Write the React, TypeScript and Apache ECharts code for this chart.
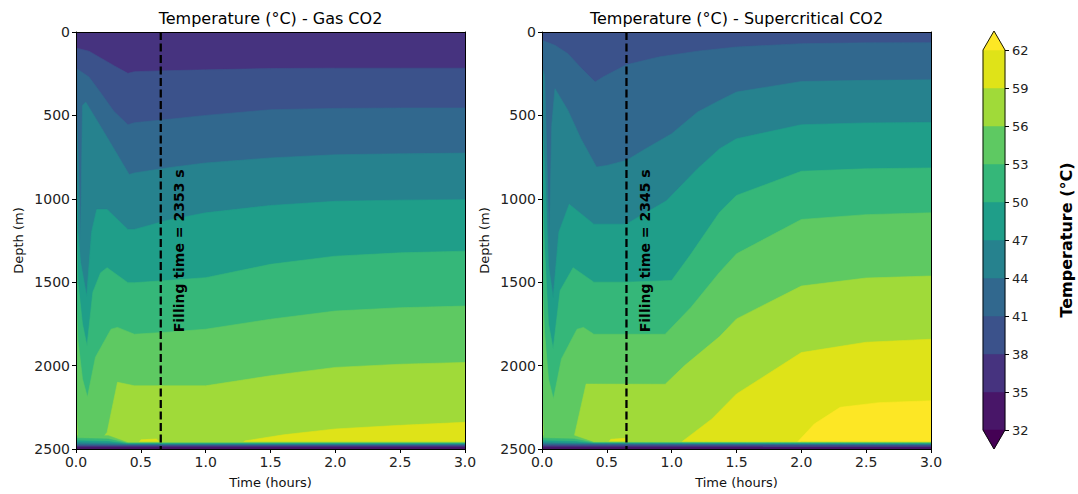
import React, { useEffect, useRef } from 'react';
import * as echarts from 'echarts';

// ---------- data ----------
const LEVELS = [32, 35, 38, 41, 44, 47, 50, 53, 56, 59, 62];
const BAND_COLORS = ['#481668', '#46337f', '#3b528b', '#31688e', '#26828e', '#1f9e89', '#35b779', '#5ec962', '#a0da39', '#dfe318'];
const UNDER_COLOR = '#440154';
const OVER_COLOR = '#fde725';

const T_MIN = 0;
const T_MAX = 3;
const D_MIN = 0;
const D_MAX = 2500;

const TITLES = ['Temperature (°C) - Gas CO2', 'Temperature (°C) - Supercritical CO2'];
const FILL_TIMES_S = [2353, 2345];

// isotherm depths (time h, depth m) – Gas CO2
const TOP_EDGE = [[0, 0], [3, 0]];
const GAS_B38 = [[0, 96], [0.1, 115], [0.2, 160], [0.3, 205], [0.4, 248], [0.45, 238], [0.7, 232], [1.0, 227], [1.5, 219], [2.0, 217], [2.5, 217], [3.0, 217]];
const GAS_B41 = [[0, 217], [0.1, 270], [0.2, 375], [0.29, 474], [0.4, 556], [0.45, 544], [0.7, 525], [1.0, 500], [1.5, 466], [2.0, 458], [2.5, 456], [3.0, 456]];
const GAS_B44 = [[0, 420], [0.015, 700], [0.035, 1250], [0.05, 440], [0.075, 420], [0.2, 580], [0.3, 710], [0.41, 855], [0.45, 845], [0.7, 815], [1.0, 785], [1.5, 755], [2.0, 736], [2.5, 730], [3.0, 726]];
const GAS_B47 = [[0, 720], [0.015, 1200], [0.035, 1380], [0.082, 1583], [0.12, 1200], [0.16, 1064], [0.24, 1064], [0.4, 1184], [0.45, 1184], [0.7, 1130], [1.0, 1084], [1.5, 1040], [2.0, 1015], [2.5, 1008], [3.0, 1005]];
const GAS_B50 = [[0, 1050], [0.015, 1500], [0.05, 1750], [0.085, 1882], [0.13, 1560], [0.19, 1443], [0.24, 1413], [0.4, 1503], [0.45, 1503], [0.7, 1490], [1.0, 1473], [1.5, 1393], [2.0, 1344], [2.5, 1324], [3.0, 1314]];
const GAS_B53 = [[0, 1550], [0.015, 1850], [0.05, 2080], [0.088, 2190], [0.15, 1950], [0.27, 1782], [0.32, 1771], [0.45, 1812], [0.7, 1800], [1.0, 1782], [1.5, 1722], [2.0, 1673], [2.5, 1653], [3.0, 1643]];
const GAS_B56 = [[0, 2180], [0.012, 2440], [0.05, 2490], [0.15, 2490], [0.19, 2450], [0.24, 2400], [0.32, 2100], [0.45, 2121], [1.0, 2121], [1.5, 2061], [2.0, 2011], [2.5, 1992], [3.0, 1981]];
const GAS_B59 = [[0, 2500], [0.45, 2500], [0.5, 2445], [0.62, 2440], [0.7, 2500], [1.25, 2500], [1.3, 2452], [1.6, 2415], [2.0, 2380], [2.5, 2358], [3.0, 2340]];
// bottom boundary layer (temperature falls again)
const GAS_R59 = [[0, 2500], [0.3, 2500], [0.38, 2458], [3.0, 2458]];
const GAS_R56 = [[0, 2420], [0.25, 2420], [0.4, 2462], [3.0, 2462]];
const GAS_R53 = [[0, 2435], [0.25, 2440], [0.4, 2466], [3.0, 2466]];
const GAS_R50 = [[0, 2450], [0.25, 2455], [0.4, 2469], [3.0, 2469]];
const GAS_R47 = [[0, 2462], [0.25, 2466], [0.4, 2472], [3.0, 2472]];
const GAS_R44 = [[0, 2472], [0.4, 2476], [3.0, 2476]];
const GAS_R41 = [[0, 2479], [3.0, 2479]];
const GAS_R38 = [[0, 2484], [3.0, 2484]];
const GAS_R35 = [[0, 2490], [3.0, 2490]];

// isotherm depths – Supercritical CO2
const SC_B41 = [[0, 50], [0.1, 80], [0.2, 130], [0.3, 215], [0.41, 300], [0.47, 270], [0.65, 197], [0.9, 150], [1.2, 115], [1.5, 90], [2.0, 70], [2.5, 65], [3.0, 64]];
const SC_B44 = [[0, 210], [0.02, 260], [0.056, 1272], [0.075, 560], [0.1, 340], [0.2, 470], [0.3, 640], [0.42, 810], [0.5, 800], [0.65, 770], [0.8, 700], [1.0, 610], [1.2, 480], [1.37, 410], [1.5, 360], [2.0, 297], [2.5, 290], [3.0, 287]];
const SC_B47 = [[0, 500], [0.02, 800], [0.05, 1400], [0.086, 1591], [0.13, 1200], [0.21, 1033], [0.4, 1152], [0.65, 1152], [0.96, 1012], [1.1, 900], [1.2, 820], [1.37, 700], [1.5, 640], [2.0, 556], [2.5, 545], [3.0, 542]];
const SC_B50 = [[0, 900], [0.02, 1300], [0.05, 1750], [0.086, 1900], [0.14, 1550], [0.24, 1413], [0.4, 1500], [0.65, 1500], [1.0, 1490], [1.15, 1330], [1.37, 1080], [1.5, 980], [2.0, 835], [2.5, 820], [3.0, 815]];
const SC_B53 = [[0, 1450], [0.02, 1800], [0.05, 2080], [0.088, 2200], [0.15, 1960], [0.27, 1782], [0.32, 1771], [0.4, 1812], [0.95, 1812], [1.15, 1650], [1.37, 1440], [1.5, 1330], [2.0, 1124], [2.5, 1095], [3.0, 1084]];
const SC_B56 = [[0, 2180], [0.012, 2440], [0.05, 2490], [0.15, 2490], [0.2, 2460], [0.25, 2420], [0.34, 2111], [0.95, 2112], [1.1, 2000], [1.37, 1826], [1.5, 1720], [2.0, 1523], [2.5, 1475], [3.0, 1463]];
const SC_B59 = [[0, 2500], [0.48, 2500], [0.53, 2442], [0.64, 2436], [0.72, 2500], [1.05, 2500], [1.08, 2456], [1.31, 2320], [1.5, 2170], [2.0, 1922], [2.5, 1860], [3.0, 1842]];
const SC_B62 = [[0, 2500], [1.92, 2500], [1.98, 2450], [2.1, 2350], [2.3, 2250], [2.6, 2222], [3.0, 2211]];
const SC_R62 = [[0, 2500], [1.9, 2500], [2.0, 2458], [3.0, 2458]];
const SC_R59 = [[0, 2500], [0.3, 2500], [0.38, 2456], [1.0, 2458], [3.0, 2460]];
const SC_R56 = [[0, 2420], [0.25, 2420], [0.4, 2460], [3.0, 2463]];
const SC_R53 = [[0, 2435], [0.25, 2440], [0.4, 2463], [3.0, 2466]];
const SC_R50 = [[0, 2450], [0.25, 2455], [0.4, 2466], [3.0, 2469]];
const SC_R47 = [[0, 2462], [0.4, 2469], [3.0, 2472]];
const SC_R44 = [[0, 2470], [0.4, 2472], [3.0, 2476]];
const SC_R41 = [[0, 2477], [3.0, 2479]];
const SC_R38 = [[0, 2482], [3.0, 2484]];
const SC_R35 = [[0, 2490], [3.0, 2490]];

// ---------- helpers ----------
const FONT = '"DejaVu Sans", sans-serif';

function colorOf(lo: number) {
  if (lo >= 62) return OVER_COLOR;
  if (lo < 32) return UNDER_COLOR;
  return BAND_COLORS[Math.round((lo - 32) / 3)];
}

type Layer = { boundary: number[][]; band: number };

const GAS_LAYERS: Layer[] = [
  { boundary: TOP_EDGE, band: 35 },
  { boundary: GAS_B38, band: 38 },
  { boundary: GAS_B41, band: 41 },
  { boundary: GAS_B44, band: 44 },
  { boundary: GAS_B47, band: 47 },
  { boundary: GAS_B50, band: 50 },
  { boundary: GAS_B53, band: 53 },
  { boundary: GAS_B56, band: 56 },
  { boundary: GAS_B59, band: 59 },
  { boundary: GAS_R59, band: 56 },
  { boundary: GAS_R56, band: 53 },
  { boundary: GAS_R53, band: 50 },
  { boundary: GAS_R50, band: 47 },
  { boundary: GAS_R47, band: 44 },
  { boundary: GAS_R44, band: 41 },
  { boundary: GAS_R41, band: 38 },
  { boundary: GAS_R38, band: 35 },
  { boundary: GAS_R35, band: 32 },
];

const SC_LAYERS: Layer[] = [
  { boundary: TOP_EDGE, band: 38 },
  { boundary: SC_B41, band: 41 },
  { boundary: SC_B44, band: 44 },
  { boundary: SC_B47, band: 47 },
  { boundary: SC_B50, band: 50 },
  { boundary: SC_B53, band: 53 },
  { boundary: SC_B56, band: 56 },
  { boundary: SC_B59, band: 59 },
  { boundary: SC_B62, band: 62 },
  { boundary: SC_R62, band: 59 },
  { boundary: SC_R59, band: 56 },
  { boundary: SC_R56, band: 53 },
  { boundary: SC_R53, band: 50 },
  { boundary: SC_R50, band: 47 },
  { boundary: SC_R47, band: 44 },
  { boundary: SC_R44, band: 41 },
  { boundary: SC_R41, band: 38 },
  { boundary: SC_R38, band: 35 },
  { boundary: SC_R35, band: 32 },
];

function contourSeries(layers: Layer[], idx: number) {
  return {
    type: 'custom',
    xAxisIndex: idx,
    yAxisIndex: idx,
    silent: true,
    clip: true,
    z: 1,
    data: layers.map((l, i) => [l.boundary[0][0], l.boundary[0][1], i]),
    renderItem: (params: any, api: any) => {
      const layer = layers[params.dataIndex];
      const pts = layer.boundary.map((p) => api.coord([p[0], p[1]]));
      pts.push(api.coord([T_MAX, D_MAX]));
      pts.push(api.coord([T_MIN, D_MAX]));
      const c = colorOf(layer.band);
      return {
        type: 'polygon',
        shape: { points: pts },
        style: { fill: c, stroke: c, lineWidth: 0.6 },
      };
    },
  };
}

function timeAxis(grid: number) {
  return {
    gridIndex: grid,
    type: 'value',
    min: T_MIN,
    max: T_MAX,
    interval: 0.5,
    name: 'Time (hours)',
    nameLocation: 'middle',
    nameGap: 27,
    nameTextStyle: { fontSize: 13, color: '#111', fontFamily: FONT },
    axisLine: { show: true, onZero: false, lineStyle: { color: '#000', width: 1 } },
    axisTick: { show: true, length: 4, lineStyle: { color: '#000' } },
    axisLabel: { fontSize: 14, color: '#222', margin: 6, fontFamily: FONT, formatter: (v: number) => v.toFixed(1) },
    splitLine: { show: false },
    z: 10,
  };
}

function depthAxis(grid: number) {
  return {
    gridIndex: grid,
    type: 'value',
    inverse: true,
    min: D_MIN,
    max: D_MAX,
    interval: 500,
    name: 'Depth (m)',
    nameLocation: 'middle',
    nameGap: 51,
    nameTextStyle: { fontSize: 13, color: '#111', fontFamily: FONT },
    axisLine: { show: true, onZero: false, lineStyle: { color: '#000', width: 1 } },
    axisTick: { show: true, length: 4, lineStyle: { color: '#000' } },
    axisLabel: { fontSize: 14, color: '#222', margin: 6, fontFamily: FONT, formatter: (v: number) => String(v) },
    splitLine: { show: false },
    z: 10,
  };
}

function boxX(grid: number) {
  return {
    gridIndex: grid, type: 'value', position: 'top', min: T_MIN, max: T_MAX,
    axisLine: { show: true, onZero: false, lineStyle: { color: '#000', width: 1 } },
    axisTick: { show: false }, axisLabel: { show: false }, splitLine: { show: false }, z: 10,
  };
}
function boxY(grid: number) {
  return {
    gridIndex: grid, type: 'value', position: 'right', inverse: true, min: D_MIN, max: D_MAX,
    axisLine: { show: true, onZero: false, lineStyle: { color: '#000', width: 1 } },
    axisTick: { show: false }, axisLabel: { show: false }, splitLine: { show: false }, z: 10,
  };
}

function fillLine(idx: number) {
  const t = FILL_TIMES_S[idx] / 3600;
  return {
    type: 'line',
    xAxisIndex: idx,
    yAxisIndex: idx,
    symbol: 'none',
    silent: true,
    z: 5,
    lineStyle: { color: '#000', width: 2.3, type: [8, 3.5] },
    data: [[t, D_MIN], [t, D_MAX]],
  };
}

function fillLabel(idx: number) {
  const t = FILL_TIMES_S[idx] / 3600;
  return {
    type: 'custom',
    xAxisIndex: idx,
    yAxisIndex: idx,
    silent: true,
    z: 6,
    data: [[t + 0.14, 1800]],
    renderItem: (params: any, api: any) => {
      const p = api.coord([api.value(0), api.value(1)]);
      return {
        type: 'text',
        x: p[0],
        y: p[1],
        rotation: Math.PI / 2,
        style: {
          text: `Filling time = ${FILL_TIMES_S[idx]} s`,
          font: `bold 14px ${FONT}`,
          fill: '#000',
          align: 'left',
          verticalAlign: 'middle',
        },
      };
    },
  };
}

const CB_BANDS = LEVELS.slice(0, -1).map((lo, i) => [lo, LEVELS[i + 1]]);
const CB_EXT = 1.5;

export default function App() {
  const ref = useRef<HTMLDivElement>(null);
  useEffect(() => {
    if (!ref.current) return;
    const chart = echarts.init(ref.current, undefined, { renderer: 'svg' });
    const lo = LEVELS[0];
    const hi = LEVELS[LEVELS.length - 1];
    const option: any = {
      animation: false,
      backgroundColor: '#ffffff',
      textStyle: { fontFamily: FONT },
      grid: [
        { left: 76, top: 32, width: 389, height: 418 },
        { left: 542, top: 32, width: 389, height: 418 },
        { left: 983, top: 50, width: 22, height: 380 },
      ],
      xAxis: [
        timeAxis(0),
        timeAxis(1),
        boxX(0),
        boxX(1),
        { gridIndex: 2, type: 'value', min: 0, max: 1, show: false },
      ],
      yAxis: [
        depthAxis(0),
        depthAxis(1),
        boxY(0),
        boxY(1),
        {
          gridIndex: 2,
          type: 'value',
          min: lo,
          max: hi,
          interval: 3,
          position: 'right',
          name: 'Temperature (°C)',
          nameLocation: 'middle',
          nameRotate: 90,
          nameGap: 53,
          nameTextStyle: { fontSize: 16, fontWeight: 'bold', color: '#000', fontFamily: FONT },
          axisLine: { show: false, onZero: false },
          axisTick: { show: true, length: 4, lineStyle: { color: '#000' } },
          axisLabel: { fontSize: 13, color: '#222', margin: 7, fontFamily: FONT },
          splitLine: { show: false },
          z: 10,
        },
      ],
      graphic: [
        { type: 'text', x: 270.5, y: 18, style: { text: TITLES[0], font: `16px ${FONT}`, fill: '#000', align: 'center', verticalAlign: 'middle' } },
        { type: 'text', x: 736.5, y: 18, style: { text: TITLES[1], font: `16px ${FONT}`, fill: '#000', align: 'center', verticalAlign: 'middle' } },
      ],
      series: [
        contourSeries(GAS_LAYERS, 0),
        contourSeries(SC_LAYERS, 1),
        fillLine(0),
        fillLine(1),
        fillLabel(0),
        fillLabel(1),
        {
          type: 'custom',
          xAxisIndex: 4,
          yAxisIndex: 4,
          silent: true,
          z: 2,
          data: CB_BANDS.map((b) => [0, b[0], b[1]]),
          renderItem: (params: any, api: any) => {
            const a = api.coord([0, api.value(2)]);
            const b = api.coord([1, api.value(1)]);
            const c = colorOf(api.value(1));
            return { type: 'rect', shape: { x: a[0], y: a[1], width: b[0] - a[0], height: b[1] - a[1] }, style: { fill: c, stroke: c, lineWidth: 0.5 } };
          },
        },
        {
          type: 'custom',
          xAxisIndex: 4,
          yAxisIndex: 4,
          silent: true,
          clip: false,
          z: 2,
          data: [[hi, hi + CB_EXT, 62], [lo, lo - CB_EXT, 0]],
          renderItem: (params: any, api: any) => {
            const base = api.value(0);
            const tip = api.value(1);
            const pts = [api.coord([0, base]), api.coord([1, base]), api.coord([0.5, tip])];
            const c = api.value(2) >= 62 ? OVER_COLOR : UNDER_COLOR;
            return { type: 'polygon', shape: { points: pts }, style: { fill: c, stroke: c, lineWidth: 0.5 } };
          },
        },
        {
          type: 'custom',
          xAxisIndex: 4,
          yAxisIndex: 4,
          silent: true,
          clip: false,
          z: 3,
          data: [[0, lo]],
          renderItem: (params: any, api: any) => {
            const pts = [
              api.coord([0, hi]),
              api.coord([0.5, hi + CB_EXT]),
              api.coord([1, hi]),
              api.coord([1, lo]),
              api.coord([0.5, lo - CB_EXT]),
              api.coord([0, lo]),
            ];
            return { type: 'polygon', shape: { points: pts }, style: { fill: 'none', stroke: '#000', lineWidth: 0.9 } };
          },
        },
      ],
    };
    chart.setOption(option);
    return () => chart.dispose();
  }, []);
  return (
    <div
      ref={ref}
      style={{ position: 'fixed', left: 0, top: 0, width: 1078, height: 494, background: '#fff' }}
    />
  );
}
